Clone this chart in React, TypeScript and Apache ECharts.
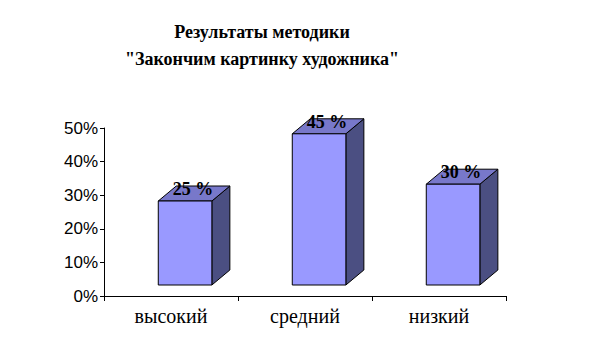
import React, { useEffect, useRef } from "react";
import * as echarts from "echarts";

const categories = ["высокий", "средний", "низкий"];
const values = [0.25, 0.45, 0.3];
const valueLabels = ["25 %", "45 %", "30 %"];
const titleLines = ["Результаты методики", "\"Закончим картинку художника\""];

export default function App() {
  const ref = useRef<HTMLDivElement>(null);
  useEffect(() => {
    const chart = echarts.init(ref.current!, null, { renderer: "svg" });
    const dx = 18;
    const dy = 15;
    const lift = 11;
    const titleY = [32, 59];
    chart.setOption({
      animation: false,
      backgroundColor: "#fff",
      graphic: titleLines.map((t, i) => ({
        type: "text",
        x: 262,
        y: titleY[i],
        style: {
          text: t,
          fontFamily: "'Liberation Serif', serif",
          fontWeight: "bold",
          fontSize: 18,
          fill: "#000",
          align: "center",
          verticalAlign: "middle",
        },
      })),
      grid: { left: 104, right: 95, top: 128, bottom: 55 },
      xAxis: {
        type: "category",
        data: categories,
        boundaryGap: true,
        axisLine: { lineStyle: { color: "#000", width: 1 } },
        axisTick: { show: true, alignWithLabel: false, length: 5, lineStyle: { color: "#000" } },
        axisLabel: {
          fontFamily: "'Liberation Serif', serif",
          fontSize: 20,
          color: "#000",
          margin: 10,
        },
      },
      yAxis: {
        type: "value",
        min: 0,
        max: 0.5,
        interval: 0.1,
        axisLine: { show: true, lineStyle: { color: "#000", width: 1 } },
        axisTick: { show: true, length: 4, lineStyle: { color: "#000" } },
        splitLine: { show: false },
        axisLabel: {
          formatter: (v: number) => Math.round(v * 100) + "%",
          fontFamily: "'Liberation Sans', sans-serif",
          fontSize: 17,
          color: "#000",
          margin: 6,
        },
      },
      series: [
        {
          type: "custom",
          data: values.map((v, i) => [i, v]),
          renderItem: (params: any, api: any) => {
            const idx = api.value(0);
            const val = api.value(1);
            const base = api.coord([idx, 0]);
            const top = api.coord([idx, val]);
            const band = api.size([1, 0])[0];
            const w = band * 0.4;
            const x0 = base[0] - band / 2 + band * 0.405;
            const x1 = x0 + w;
            const yb = base[1] - lift;
            const yt = top[1] - lift;
            return {
              type: "group",
              children: [
                {
                  type: "polygon",
                  shape: { points: [[x1, yt], [x1 + dx, yt - dy], [x1 + dx, yb - dy], [x1, yb]] },
                  style: { fill: "#4B4F82", stroke: "#000", lineWidth: 1 },
                },
                {
                  type: "polygon",
                  shape: { points: [[x0, yt], [x0 + dx, yt - dy], [x1 + dx, yt - dy], [x1, yt]] },
                  style: { fill: "#7878CA", stroke: "#000", lineWidth: 1 },
                },
                {
                  type: "rect",
                  shape: { x: x0, y: yt, width: w, height: yb - yt },
                  style: { fill: "#9999FF", stroke: "#000", lineWidth: 1 },
                },
                {
                  type: "text",
                  x: (x0 + x1) / 2 + 8,
                  y: yt - 12,
                  style: {
                    text: valueLabels[params.dataIndex],
                    fontFamily: "'Liberation Serif', serif",
                    fontWeight: "bold",
                    fontSize: 18,
                    fill: "#000",
                    align: "center",
                    verticalAlign: "middle",
                  },
                },
              ],
            };
          },
        },
      ],
    });
    return () => chart.dispose();
  }, []);
  return <div ref={ref} style={{ width: 601, height: 351, position: "absolute", left: 0, top: 0 }} />;
}
